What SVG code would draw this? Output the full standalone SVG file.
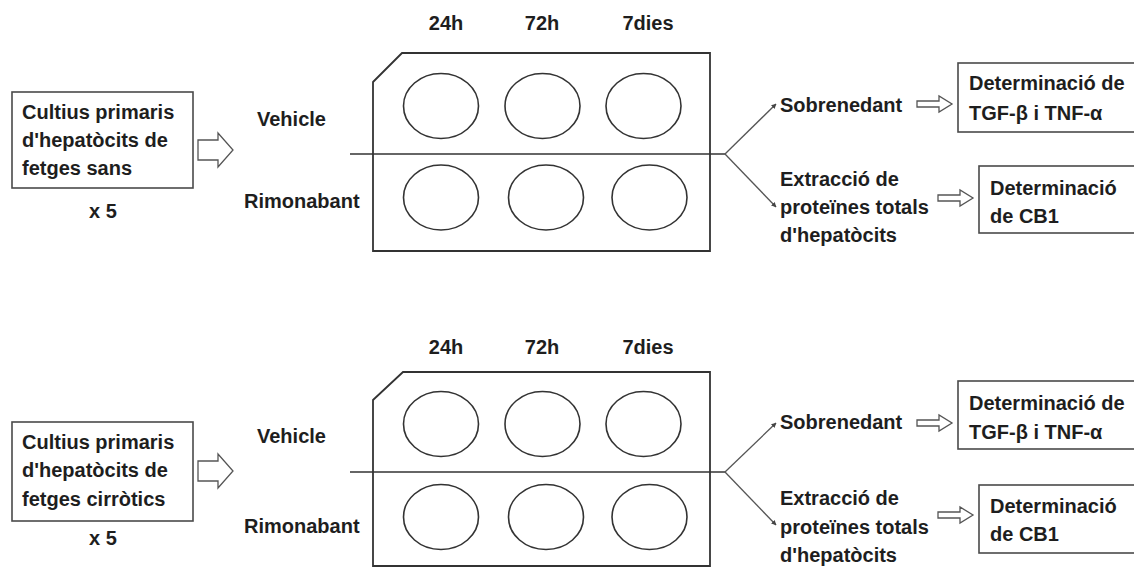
<svg xmlns="http://www.w3.org/2000/svg" width="1134" height="567" viewBox="0 0 1134 567">
  <style>
    .t { font-family: "Liberation Sans", Arial, Helvetica, sans-serif; font-weight: bold; font-size: 20px; fill: #1e1e1e; }
    .m { text-anchor: middle; }
    .box { fill: #ffffff; stroke: #4a4a4a; stroke-width: 1.6; }
    .plate { fill: #ffffff; stroke: #333333; stroke-width: 1.8; stroke-linejoin: miter; }
    .well { fill: none; stroke: #333333; stroke-width: 1.6; }
    .line { fill: none; stroke: #333333; stroke-width: 1.6; }
    .branch { fill: none; stroke: #555555; stroke-width: 1.3; marker-end: url(#tip); }
    .hollow { fill: #ffffff; stroke: #555555; stroke-width: 1.3; stroke-linejoin: miter; }
  </style>
  <defs>
    <marker id="tip" viewBox="0 0 10 10" refX="9" refY="5" markerWidth="5" markerHeight="5" orient="auto" markerUnits="userSpaceOnUse">
      <path d="M0,0 L10,5 L0,10 Z" fill="#444444"/>
    </marker>
    <!-- large outlined block arrow, tail at origin, pointing right -->
    <polygon id="bigArrow" points="0,-10 20,-10 20,-17 35,0 20,17 20,10 0,10"/>
    <!-- slim outlined block arrow -->
    <polygon id="slimArrow" points="0,-3 22,-3 22,-8 35,0 22,8 22,3 0,3"/>
    <!-- six-well plate with the vehicle / rimonabant divider -->
    <g id="wells">
      <ellipse class="well" cx="441" cy="0" rx="37.5" ry="32.5"/>
      <ellipse class="well" cx="542.5" cy="0" rx="37.5" ry="32.5"/>
      <ellipse class="well" cx="643.5" cy="0" rx="37.5" ry="32.5"/>
    </g>
  </defs>

  <!-- ===== Healthy livers ===== -->
  <g id="source-sans">
    <rect class="box" x="12" y="92" width="181" height="96"/>
    <text class="t" x="22" y="119">Cultius primaris</text>
    <text class="t" x="22" y="147">d'hepatòcits de</text>
    <text class="t" x="22" y="175">fetges sans</text>
    <text class="t m" x="103" y="218">x 5</text>
  </g>

  <g id="plate-sans">
    <text class="t m" x="446" y="30">24h</text>
    <text class="t m" x="542" y="30">72h</text>
    <text class="t m" x="648" y="30">7dies</text>
    <path class="plate" d="M373,82 L402,53 L710,53 L710,251 L373,251 Z"/>
    <ellipse class="well" cx="441" cy="106" rx="37.5" ry="32.5"/>
    <ellipse class="well" cx="542.5" cy="106" rx="37.5" ry="32.5"/>
    <ellipse class="well" cx="643.5" cy="106" rx="37.5" ry="32.5"/>
    <ellipse class="well" cx="441" cy="197.5" rx="37.5" ry="32.5"/>
    <ellipse class="well" cx="546" cy="197.5" rx="37.5" ry="32.5"/>
    <ellipse class="well" cx="649.5" cy="197.5" rx="37.5" ry="32.5"/>
    <text class="t" x="257" y="126">Vehicle</text>
    <text class="t" x="244" y="208">Rimonabant</text>
  </g>

  <g id="sobrenedant-sans">
    <text class="t" x="780" y="112">Sobrenedant</text>
  </g>
  <g id="extraccio-sans">
    <text class="t" x="780" y="186">Extracció de</text>
    <text class="t" x="780" y="214">proteïnes totals</text>
    <text class="t" x="780" y="242">d'hepatòcits</text>
  </g>
  <g id="tgf-sans">
    <rect class="box" x="958" y="63" width="185" height="69"/>
    <text class="t" x="969" y="90">Determinació de</text>
    <text class="t" x="969" y="120">TGF-β i TNF-α</text>
  </g>
  <g id="cb1-sans">
    <rect class="box" x="979" y="166" width="165" height="67"/>
    <text class="t" x="990" y="195">Determinació</text>
    <text class="t" x="990" y="223">de CB1</text>
  </g>

  <!-- ===== Cirrhotic livers ===== -->
  <g id="source-cirrotics">
    <rect class="box" x="12" y="422" width="181" height="99"/>
    <text class="t" x="22" y="449">Cultius primaris</text>
    <text class="t" x="22" y="477">d'hepatòcits de</text>
    <text class="t" x="22" y="506">fetges cirròtics</text>
    <text class="t m" x="103" y="545">x 5</text>
  </g>

  <g id="plate-cirrotics">
    <text class="t m" x="446" y="354">24h</text>
    <text class="t m" x="542" y="354">72h</text>
    <text class="t m" x="648" y="354">7dies</text>
    <path class="plate" d="M373,400 L403,372 L710,372 L710,566 L373,566 Z"/>
    <ellipse class="well" cx="441" cy="424" rx="37.5" ry="32.5"/>
    <ellipse class="well" cx="542.5" cy="424" rx="37.5" ry="32.5"/>
    <ellipse class="well" cx="643.5" cy="424" rx="37.5" ry="32.5"/>
    <ellipse class="well" cx="441" cy="517" rx="37.5" ry="32.5"/>
    <ellipse class="well" cx="546" cy="517" rx="37.5" ry="32.5"/>
    <ellipse class="well" cx="649.5" cy="517" rx="37.5" ry="32.5"/>
    <text class="t" x="257" y="443">Vehicle</text>
    <text class="t" x="244" y="533">Rimonabant</text>
  </g>

  <g id="sobrenedant-cirrotics">
    <text class="t" x="780" y="429">Sobrenedant</text>
  </g>
  <g id="extraccio-cirrotics">
    <text class="t" x="780" y="505">Extracció de</text>
    <text class="t" x="780" y="534">proteïnes totals</text>
    <text class="t" x="780" y="562">d'hepatòcits</text>
  </g>
  <g id="tgf-cirrotics">
    <rect class="box" x="958" y="381" width="185" height="68"/>
    <text class="t" x="969" y="410">Determinació de</text>
    <text class="t" x="969" y="439">TGF-β i TNF-α</text>
  </g>
  <g id="cb1-cirrotics">
    <rect class="box" x="979" y="485" width="165" height="68"/>
    <text class="t" x="990" y="513">Determinació</text>
    <text class="t" x="990" y="541">de CB1</text>
  </g>

  <!-- ===== Connectors ===== -->
  <g id="connectors">
    <!-- culture to plate -->
    <use href="#bigArrow" class="hollow" transform="translate(198,150)"/>
    <use href="#bigArrow" class="hollow" transform="translate(198,471)"/>

    <!-- treatment divider running through each plate -->
    <path class="line" d="M350,154 L725,154"/>
    <path class="line" d="M350,472 L725,472"/>

    <!-- split into supernatant and protein extraction -->
    <path class="branch" d="M725,154 L776,104"/>
    <path class="branch" d="M725,154 L776,207"/>
    <path class="branch" d="M725,472 L776,423"/>
    <path class="branch" d="M725,472 L776,525"/>

    <!-- to the determinations -->
    <use href="#slimArrow" class="hollow" transform="translate(917,104)"/>
    <use href="#slimArrow" class="hollow" transform="translate(938,198)"/>
    <use href="#slimArrow" class="hollow" transform="translate(917,423)"/>
    <use href="#slimArrow" class="hollow" transform="translate(938,515)"/>
  </g>
</svg>
